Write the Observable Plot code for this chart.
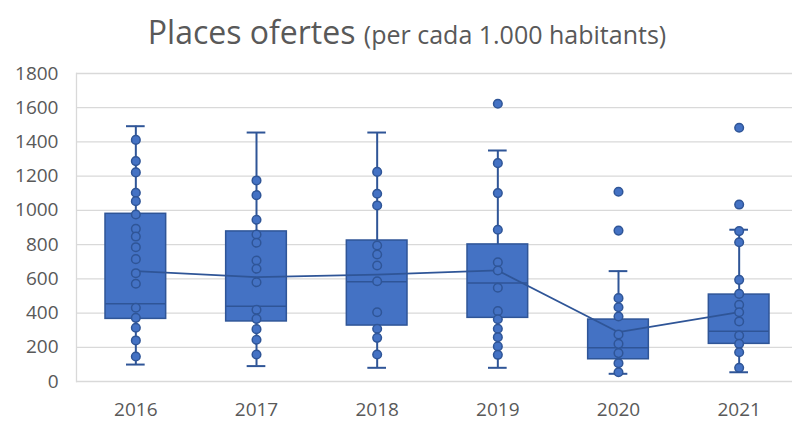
<!DOCTYPE html>
<html>
<head>
<meta charset="utf-8">
<script src="https://cdn.jsdelivr.net/npm/d3@7"></script>
<script src="https://cdn.jsdelivr.net/npm/@observablehq/plot@0.6"></script>
<style>
  html, body { margin: 0; padding: 0; background: #fff; overflow: hidden; }
  #title { height: 60px; width: 792px; box-sizing: border-box; padding-top: 12px;
    text-align: center; font-family: "Open Sans", sans-serif; color: #595959;
    font-size: 32px; line-height: 40px; white-space: nowrap; }
  #title .main { position: relative; left: 11px; }
  #title .sub { font-size: 25px; }
  #chart svg { display: block; }
</style>
</head>
<body>
<div id="title"><span class="main">Places ofertes <span class="sub">(per cada 1.000 habitants)</span></span></div>
<div id="chart"></div>
<script>
// Categories
const years = ["2016", "2017", "2018", "2019", "2020", "2021"];
// Box-and-whisker summary
const whiskerLow  = [99, 90, 80, 80, 45, 54];
const q1          = [366, 351, 327, 372, 130, 220];
const median      = [454, 440, 583, 575, 197, 294];
const q3          = [980, 877, 824, 801, 362, 508];
const whiskerHigh = [1492, 1455, 1455, 1350, 645, 887];
const mean        = [645, 610, 625, 649, 288, 405];
// Individual points (inner points and outliers)
const points2016 = [1412, 1288, 1222, 1103, 1054, 976, 892, 847, 785, 715, 633, 571, 431, 372, 314, 240, 146];
const points2017 = [1175, 1089, 945, 859, 811, 707, 659, 580, 419, 366, 306, 244, 158];
const points2018 = [1225, 1097, 1029, 795, 742, 678, 586, 405, 308, 255, 158];
const points2019 = [1623, 1276, 1101, 887, 697, 649, 548, 411, 364, 308, 259, 205, 156];
const points2020 = [1109, 882, 487, 434, 380, 275, 220, 166, 107, 54];
const points2021 = [1483, 1034, 879, 814, 594, 512, 448, 405, 351, 269, 220, 171, 80];
// Y tick labels
const yTicks = [0, 200, 400, 600, 800, 1000, 1200, 1400, 1600, 1800];

const pointLists = [points2016, points2017, points2018, points2019, points2020, points2021];
const boxes = years.map((year, i) => ({
  year, lo: whiskerLow[i], q1: q1[i], med: median[i], q3: q3[i], hi: whiskerHigh[i], mean: mean[i]
}));
const dots = years.flatMap((year, i) => pointLists[i].map(v => ({year, v})));

const BLUE = "#4472C4", DARK = "#2F5597", GRID = "#d9d9d9";
const boxInset = 30, capInset = 51;

const chart = Plot.plot({
  width: 792,
  height: 363,
  marginTop: 13,
  marginBottom: 42,
  marginLeft: 76,
  marginRight: 0,
  x: {type: "band", domain: years, range: [75, 799], padding: 0, round: false, label: null},
  y: {domain: [0, 1800], label: null},
  style: {fontFamily: "Open Sans, sans-serif", color: "#595959", background: "#fff", overflow: "hidden"},
  marks: [
    Plot.gridY(yTicks, {stroke: GRID, strokeOpacity: 1, strokeWidth: 1.3}),
    Plot.frame({anchor: "left", stroke: GRID, strokeWidth: 1.3}),
    Plot.axisY({ticks: yTicks, tickFormat: d => String(d), tickSize: 0, tickPadding: 18, fontSize: 19, label: null}),
    Plot.axisX({tickSize: 0, tickPadding: 21, fontSize: 19, label: null}),
    Plot.ruleX(boxes, {x: "year", y1: "lo", y2: "hi", stroke: DARK, strokeWidth: 2}),
    Plot.tickY(boxes, {x: "year", y: "lo", stroke: DARK, strokeWidth: 2, insetLeft: capInset, insetRight: capInset}),
    Plot.tickY(boxes, {x: "year", y: "hi", stroke: DARK, strokeWidth: 2, insetLeft: capInset, insetRight: capInset}),
    Plot.rectY(boxes, {x: "year", y1: "q1", y2: "q3", fill: BLUE, stroke: DARK, strokeWidth: 1.5, insetLeft: boxInset, insetRight: boxInset}),
    Plot.tickY(boxes, {x: "year", y: "med", stroke: DARK, strokeWidth: 1.5, insetLeft: boxInset, insetRight: boxInset}),
    Plot.line(boxes, {x: "year", y: "mean", stroke: DARK, strokeWidth: 1.8}),
    Plot.dot(dots, {x: "year", y: "v", r: 4.3, fill: BLUE, stroke: DARK, strokeWidth: 1.5})
  ]
});
document.getElementById("chart").appendChild(chart);
</script>
</body>
</html>
